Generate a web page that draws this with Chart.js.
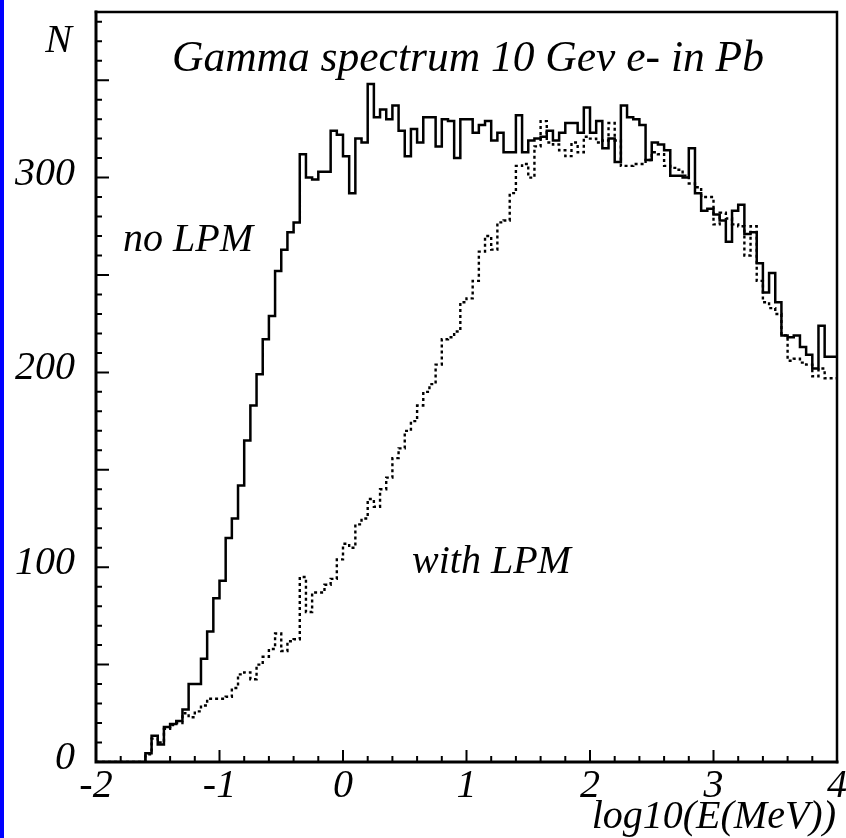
<!DOCTYPE html>
<html>
<head>
<meta charset="utf-8">
<script src="https://cdn.jsdelivr.net/npm/chart.js@4.4.1/dist/chart.umd.min.js"></script>
<style>
  html, body { margin: 0; padding: 0; background: #fff; }
  canvas { display: block; }
</style>
</head>
<body>
<canvas id="spectrum" width="846" height="838"></canvas>
<script>
// --- DATA ---
// histogram: 120 bins of 0.05 in log10(E/MeV), from -2 to 4
const BIN_START = -2;
const BIN_WIDTH = 0.05;

const noLPM = [
    0, 0, 0, 0, 0, 0, 0, 0, 0, 4.5,
    13.5, 9, 18, 19.5, 21, 27, 40, 40, 53, 67,
    84, 93, 115, 125, 142, 165, 183, 199, 217, 229,
    252, 263, 272, 277, 312, 300, 299, 303, 303, 324,
    322, 311, 292, 320, 318, 348, 331, 335, 330, 337,
    324, 311, 325, 318, 331, 331, 316, 330, 329, 310,
    330, 330, 323, 327, 329, 319, 323, 313, 313, 332,
    313, 319, 320, 321, 324, 319, 323, 328, 328, 323,
    336, 323, 329, 315, 320, 308, 337, 331, 330, 327,
    309, 318, 317, 314, 301, 301, 300, 315, 292, 283,
    284, 281, 278, 267, 283, 286, 271, 272, 256, 241,
    251, 236, 219, 218, 219, 213, 209, 202, 224, 208
];

const withLPM = [
    0, 0, 0, 0, 0, 0, 0, 0, 0, 4,
    12, 10, 17, 19, 20, 25, 23, 26, 29, 32.5,
    32.5, 32.5, 33.5, 38, 45, 46, 42.5, 50, 54, 58,
    66, 57, 62, 63, 95, 77, 87, 87, 91, 94,
    104, 112, 110, 122, 125, 135, 131, 140, 146, 156,
    161, 170, 175, 183, 190, 194, 204, 217, 218, 221,
    236, 238, 247, 262, 270, 263, 277, 278, 292, 306,
    307, 300, 316, 329, 318, 317, 314, 311, 318, 313,
    321, 320, 318, 319, 328, 319, 306, 306, 307, 307,
    309, 313, 312, 306, 305, 304, 301, 297, 295, 290,
    290, 276, 282, 279, 276, 275, 260, 275, 247, 236,
    233, 230, 219, 206, 207, 205, 204, 198, 202, 197
];

const xTickLabels = [-2, -1, 0, 1, 2, 3, 4];
const yTickLabels = [0, 100, 200, 300];

const TITLE = 'Gamma spectrum 10 Gev e- in Pb';
const X_TITLE = 'log10(E(MeV))';
const Y_TITLE = 'N';

// --- HELPERS ---
function toSteps(values) {
    const pts = values.map((v, i) => ({ x: BIN_START + i * BIN_WIDTH, y: v }));
    pts.push({ x: BIN_START + values.length * BIN_WIDTH, y: values[values.length - 1] });
    return pts;
}

const SERIF = '"Liberation Serif", "DejaVu Serif", serif';
const FONT = 'italic 40px ' + SERIF;
const TITLE_FONT = 'italic 43.5px ' + SERIF;

// frame, inward ticks and all texts, drawn on top of the library scales
const paperPlugin = {
    id: 'paper',
    beforeDraw(chart) {
        const c = chart.ctx;
        c.save();
        c.fillStyle = '#fff';
        c.fillRect(0, 0, chart.width, chart.height);
        c.fillStyle = '#0000ff';
        c.fillRect(0, 0, 4, chart.height);
        c.restore();
    },
    afterDraw(chart) {
        const c = chart.ctx;
        const { left, right, top, bottom } = chart.chartArea;
        const xs = chart.scales.x, ys = chart.scales.y;

        c.save();
        c.strokeStyle = '#000';
        c.lineCap = 'square';

        // box
        c.lineWidth = 2.5;
        c.beginPath();
        c.moveTo(right, bottom); c.lineTo(right, top); c.lineTo(left, top);
        c.stroke();
        c.lineWidth = 3;
        c.beginPath();
        c.moveTo(left, top); c.lineTo(left, bottom); c.lineTo(right, bottom);
        c.stroke();

        // ticks pointing inwards
        c.lineWidth = 2;
        c.lineCap = 'butt';
        c.beginPath();
        for (let i = 0; i <= 38; i++) {
            const y = ys.getPixelForValue(i * 10);
            const len = i % 5 === 0 ? 13 : 6;
            c.moveTo(left, y); c.lineTo(left + len, y);
        }
        for (let i = 0; i <= 30; i++) {
            const x = xs.getPixelForValue(-2 + i * 0.2);
            const len = i % 5 === 0 ? 12 : 6;
            c.moveTo(x, bottom); c.lineTo(x, bottom - len);
        }
        c.stroke();

        // tick labels
        c.fillStyle = '#000';
        c.font = FONT;
        c.textBaseline = 'alphabetic';
        c.textAlign = 'right';
        yTickLabels.forEach(v => c.fillText(String(v), 75, ys.getPixelForValue(v) + 7));
        c.textAlign = 'center';
        xTickLabels.forEach(v => c.fillText(String(v), xs.getPixelForValue(v), 797));

        // axis titles
        c.textAlign = 'right';
        c.fillText(X_TITLE, 836, 828);
        c.fillText(Y_TITLE, 72, 52);

        // curve labels and title
        c.textAlign = 'left';
        c.fillText('no LPM', 123, 251);
        c.fillText('with LPM', 412, 573);
        c.font = TITLE_FONT;
        c.fillText(TITLE, 172, 71);
        c.restore();
    }
};

// --- CHART ---
document.addEventListener('DOMContentLoaded', () => {
    const ctx = document.getElementById('spectrum').getContext('2d');
    new Chart(ctx, {
        type: 'line',
        data: {
            datasets: [
                {
                    label: 'with LPM', data: toSteps(withLPM), stepped: 'after',
                    borderColor: '#000', borderWidth: 2.4, borderDash: [3, 3],
                    pointRadius: 0, fill: false
                },
                {
                    label: 'no LPM', data: toSteps(noLPM), stepped: 'after',
                    borderColor: '#000', borderWidth: 2.5,
                    pointRadius: 0, fill: false
                }
            ]
        },
        options: {
            responsive: false,
            animation: false,
            devicePixelRatio: 1,
            layout: { padding: { left: 96, top: 12, right: 9, bottom: 76 } },
            scales: {
                x: { type: 'linear', min: -2, max: 4, display: false },
                y: { type: 'linear', min: 0, max: 385, display: false }
            },
            plugins: { legend: { display: false }, tooltip: { enabled: false } }
        },
        plugins: [paperPlugin]
    });
});
</script>
</body>
</html>
